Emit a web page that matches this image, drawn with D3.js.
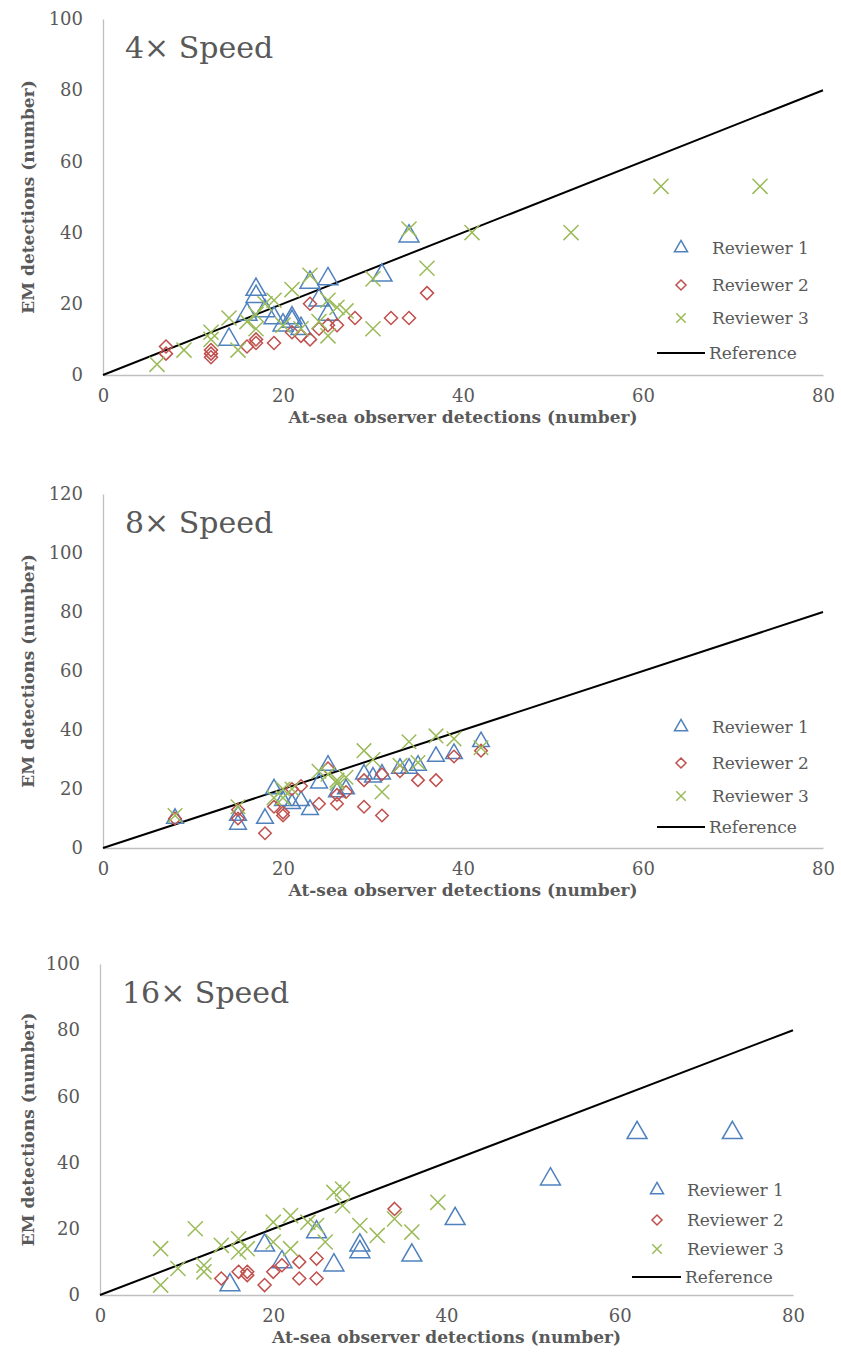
<!DOCTYPE html>
<html>
<head>
<meta charset="utf-8">
<script src="https://cdn.jsdelivr.net/npm/d3@7"></script>
<style>
body { margin: 0; background: #fff; }
svg text { font-family: "DejaVu Serif", serif; fill: #595959; }
</style>
</head>
<body>
<div id="chart"></div>
<script>
// tick labels
var xTicks = [0, 20, 40, 60, 80];
var yTicks4 = [0, 20, 40, 60, 80, 100];
var yTicks8 = [0, 20, 40, 60, 80, 100, 120];
var yTicks16 = [0, 20, 40, 60, 80, 100];

var seriesNames = ["Reviewer 1", "Reviewer 2", "Reviewer 3", "Reference"];
var refLine = [[0, 0], [80, 80]];

// 4x speed  [at-sea observer, EM]
var speed4Rev1 = [[14,10],[16,17],[17,22],[17,24],[18,18],[19,16],[20,14],[21,15],[21,16],[22,13],[23,26],[24,21],[25,17],[25,27],[31,28],[34,39]];
var speed4Rev2 = [[7,8],[7,6],[12,7],[12,6],[12,5],[16,8],[17,9],[17,10],[19,9],[21,12],[22,11],[23,10],[23,20],[24,13],[25,14],[26,14],[28,16],[32,16],[34,16],[36,23]];
var speed4Rev3 = [[6,3],[9,7],[12,10],[12,12],[14,16],[15,7],[16,15],[17,13],[17,17],[18,20],[19,21],[20,14],[21,24],[22,13],[23,28],[24,15],[25,11],[25,21],[26,19],[27,18],[30,13],[30,27],[34,41],[36,30],[41,40],[52,40],[62,53],[73,53]];

// 8x speed
var speed8Rev1 = [[8,10],[15,8],[15,11],[18,10],[19,20],[20,16],[21,15],[22,16],[23,13],[24,22],[25,28],[26,19],[27,20],[29,25],[30,24],[31,25],[33,27],[34,27],[35,28],[37,31],[39,32],[42,36]];
var speed8Rev2 = [[8,10],[15,10],[15,13],[18,5],[19,14],[20,11],[20,12],[21,20],[22,21],[24,15],[25,27],[26,15],[26,18],[27,19],[29,14],[29,23],[31,11],[31,25],[33,26],[35,23],[37,23],[39,31],[42,33]];
var speed8Rev3 = [[8,11],[15,14],[19,17],[20,17],[20,20],[21,20],[24,26],[25,25],[26,23],[26,22],[27,24],[29,33],[30,30],[31,19],[33,28],[34,36],[35,29],[37,38],[39,37],[42,34]];

// 16x speed
var speed16Rev1 = [[15,3],[19,15],[21,10],[25,19],[27,9],[30,13],[30,15],[36,12],[41,23],[52,35],[62,49],[73,49]];
var speed16Rev2 = [[14,5],[16,7],[17,7],[17,6],[19,3],[20,7],[21,9],[23,10],[23,5],[25,11],[25,5],[34,26]];
var speed16Rev3 = [[7,14],[7,3],[9,8],[11,20],[12,9],[12,7],[14,15],[16,17],[16,13],[17,14],[20,22],[20,16],[22,24],[22,14],[24,22],[25,21],[26,16],[27,31],[28,32],[28,27],[30,21],[32,18],[34,23],[36,19],[39,28]];

var colors = ["#4f81bd", "#c0504d", "#9bbb59"];
var shapes = [d3.symbolTriangle2, d3.symbolDiamond2, d3.symbolTimes];

var panels = [
	{ title: "4\u00d7 Speed", series: [speed4Rev1, speed4Rev2, speed4Rev3], yMax: 100, yTicks: yTicks4,
	  left: 103, right: 823, top: 19, bottom: 375, sizes: [284, 108, 150],
	  legY: [248, 285, 318, 353], legMark: 681, legText: 712, legLine: [657, 705] },
	{ title: "8\u00d7 Speed", series: [speed8Rev1, speed8Rev2, speed8Rev3], yMax: 120, yTicks: yTicks8,
	  left: 103, right: 823, top: 494, bottom: 848, sizes: [200, 100, 140],
	  legY: [727, 763, 796, 827], legMark: 681, legText: 712, legLine: [657, 705] },
	{ title: "16\u00d7 Speed", series: [speed16Rev1, speed16Rev2, speed16Rev3], yMax: 100, yTicks: yTicks16,
	  left: 100, right: 793, top: 964, bottom: 1295, sizes: [284, 108, 150],
	  legY: [1190, 1220, 1249, 1277], legMark: 657, legText: 687, legLine: [632, 681] }
];

var svg = d3.select("#chart").append("svg").attr("width", 841).attr("height", 1362);

function drawPanel(p)
{
	var g = svg.append("g");
	var x = d3.scaleLinear().domain([0, 80]).range([p.left, p.right]);
	var y = d3.scaleLinear().domain([0, p.yMax]).range([p.bottom, p.top]);

	// axes, no ticks, light grey lines
	var xa = g.append("g").attr("transform", "translate(0," + p.bottom + ")")
		.call(d3.axisBottom(x).tickValues(xTicks).tickSize(0).tickPadding(14));
	var ya = g.append("g").attr("transform", "translate(" + p.left + ",0)")
		.call(d3.axisLeft(y).tickValues(p.yTicks).tickSize(0).tickPadding(20));
	[xa, ya].forEach(function(a) {
		a.attr("font-family", null).attr("font-size", 18);
		a.select(".domain").attr("stroke", "#bfbfbf").attr("stroke-width", 1.3);
	});

	// axis titles
	g.append("text").attr("x", (p.left + p.right) / 2).attr("y", p.bottom + 42).attr("dy", "0.35em")
		.attr("text-anchor", "middle").attr("font-size", 17).attr("font-weight", "bold")
		.text("At-sea observer detections (number)");
	g.append("text").attr("transform", "translate(28," + ((p.top + p.bottom) / 2) + ") rotate(-90)")
		.attr("dy", "0.35em").attr("text-anchor", "middle").attr("font-size", 17).attr("font-weight", "bold")
		.text("EM detections (number)");

	// panel title
	g.append("text").attr("x", p.left + 22).attr("y", p.top + 39).attr("font-size", 30).text(p.title);

	// 1:1 reference line
	var line = d3.line().x(function(d) { return x(d[0]); }).y(function(d) { return y(d[1]); });
	g.append("path").datum(refLine).attr("d", line).attr("fill", "none").attr("stroke", "#000").attr("stroke-width", 2);

	// reviewers' points
	p.series.forEach(function(s, i) {
		g.append("g").selectAll("path").data(s).enter().append("path")
			.attr("transform", function(d) { return "translate(" + x(d[0]) + "," + y(d[1]) + ")"; })
			.attr("d", d3.symbol().type(shapes[i]).size(p.sizes[i]))
			.attr("fill", "none").attr("stroke", colors[i]).attr("stroke-width", 1.5);
	});

	// legend
	var legSizes = [121, 64, 60];
	for (var i = 0; i < 3; i++) {
		g.append("path").attr("transform", "translate(" + p.legMark + "," + p.legY[i] + ")")
			.attr("d", d3.symbol().type(shapes[i]).size(legSizes[i]))
			.attr("fill", "none").attr("stroke", colors[i]).attr("stroke-width", 1.5);
	}
	g.append("line").attr("x1", p.legLine[0]).attr("x2", p.legLine[1]).attr("y1", p.legY[3]).attr("y2", p.legY[3])
		.attr("stroke", "#000").attr("stroke-width", 2);
	seriesNames.forEach(function(n, i) {
		g.append("text").attr("x", i < 3 ? p.legText : p.legLine[1] + 4).attr("y", p.legY[i]).attr("dy", "0.35em")
			.attr("font-size", 17).text(n);
	});
}

panels.forEach(drawPanel);
</script>
</body>
</html>
